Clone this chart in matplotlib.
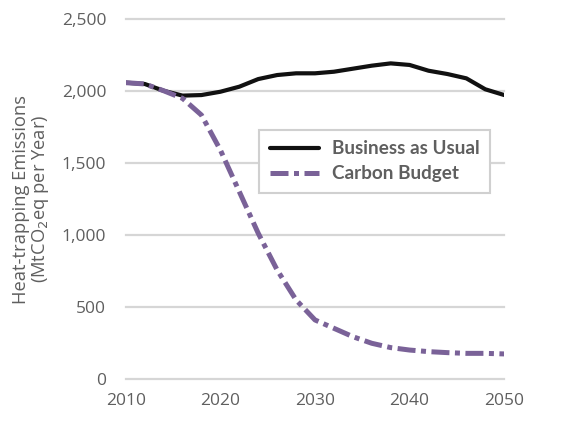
import matplotlib
matplotlib.use("Agg")
import matplotlib.pyplot as plt

years = [2010, 2012, 2014, 2016, 2018, 2020, 2022, 2024, 2026, 2028, 2030,
         2032, 2034, 2036, 2038, 2040, 2042, 2044, 2046, 2048, 2050]
bau = [2058, 2049, 2002, 1968, 1972, 1995, 2030, 2083, 2111, 2123, 2123,
       2134, 2155, 2176, 2192, 2181, 2141, 2118, 2088, 2012, 1972]
budget = [2058, 2049, 2002, 1949, 1833, 1590, 1301, 1012, 757, 549, 410,
          352, 294, 248, 218, 201, 190, 183, 178, 178, 174]
yticks = [0, 500, 1000, 1500, 2000, 2500]
xticks = [2010, 2020, 2030, 2040, 2050]

plt.rcParams['font.family'] = ['Open Sans', 'DejaVu Sans']
gray = '#5f5f5f'

fig = plt.figure(figsize=(5.64, 4.21), dpi=100)
ax = fig.add_axes([0.223, 0.0998, 0.671, 0.855])

ax.plot(years, bau, color='#111111', lw=3.0, solid_capstyle='round',
        label='Business as Usual', zorder=3)
ax.plot(years, budget, color='#7a6298', lw=3.6, dashes=(3.6, 1.1, 1.0, 1.1),
        label='Carbon Budget', zorder=4)

ax.set_xlim(2010, 2050)
ax.set_ylim(0, 2500)
ax.set_yticks(yticks)
ax.set_yticklabels([f"{v:,}" for v in yticks])
ax.set_xticks(xticks)
ax.grid(axis='y', color='#d6d6d6', lw=1.6)
ax.set_axisbelow(True)
for s in ax.spines.values():
    s.set_visible(False)
ax.tick_params(length=0, labelsize=12.5, labelcolor=gray, pad=14)
ax.tick_params(axis='x', pad=10)
for gl in ax.get_ygridlines():
    gl.set_clip_on(False)

ax.set_ylabel("Heat-trapping Emissions\n(MtCO$_2$eq per Year)", fontsize=13.2,
              color=gray, labelpad=8, linespacing=1.0)

leg = ax.legend(loc='upper left', bbox_to_anchor=(0.328, 0.718), frameon=True,
                fancybox=False, edgecolor='#d0d0d0', framealpha=1,
                handlelength=2.6, handletextpad=0.7, borderpad=0.55,
                labelspacing=0.42, prop={'family': 'Lato', 'weight': 'bold',
                                         'size': 13.6})
leg.get_frame().set_linewidth(1.5)
for t in leg.get_texts():
    t.set_color(gray)

fig.savefig('out.png', dpi=100)
